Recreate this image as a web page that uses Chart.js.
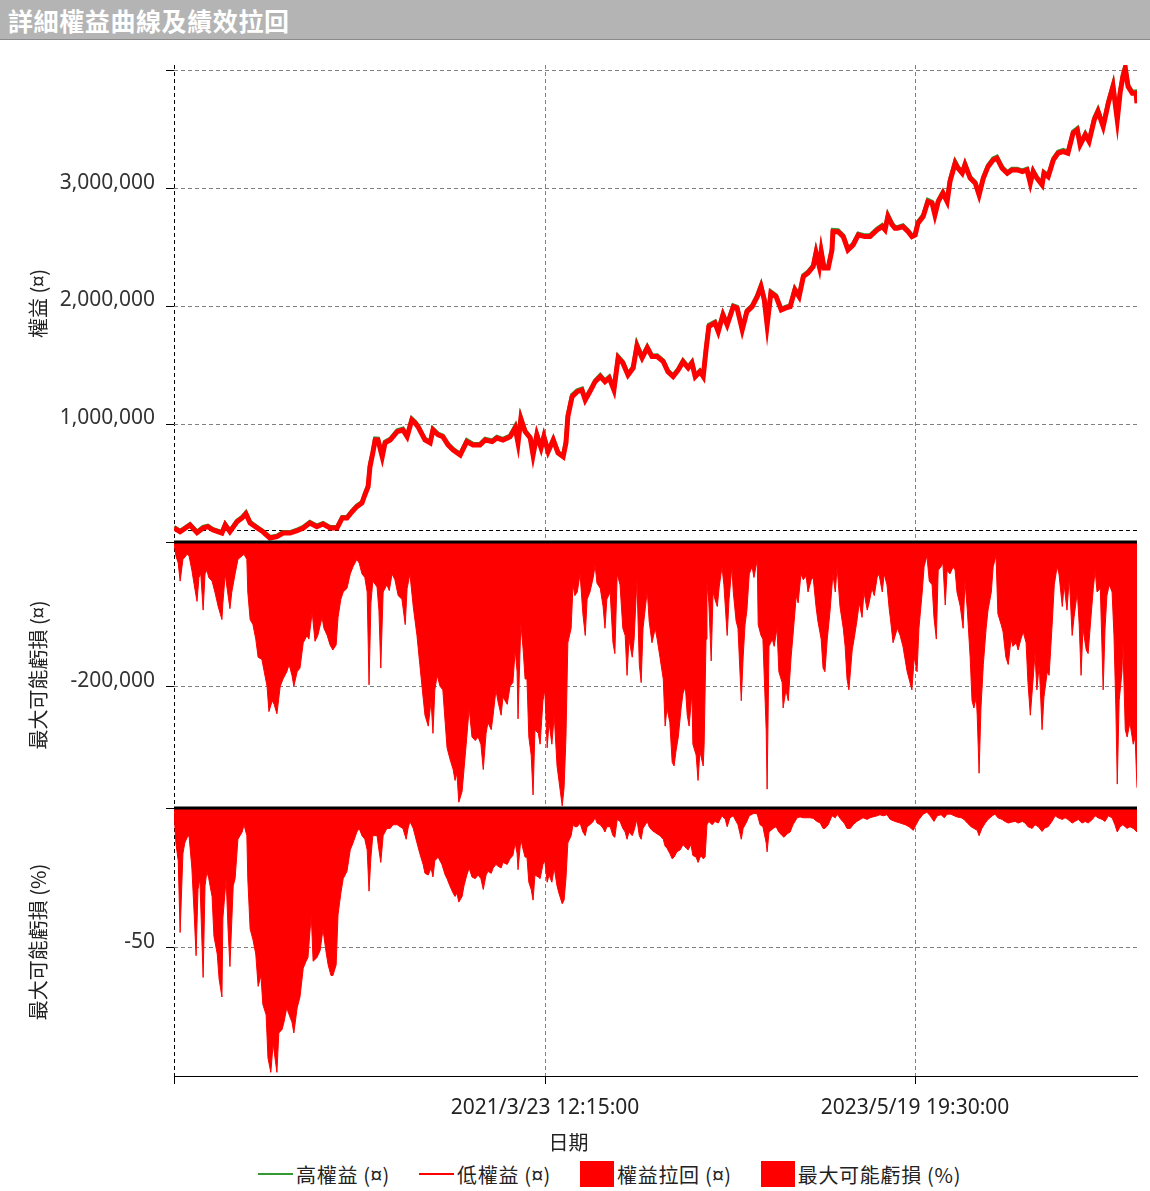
<!DOCTYPE html>
<html>
<head>
<meta charset="utf-8">
<script src="https://cdn.jsdelivr.net/npm/chart.js@4.4.1/dist/chart.umd.min.js"></script>
<style>
  body { margin: 0; background: #fff; width: 1150px; height: 1191px; position: relative; overflow: hidden; }
  #titleBar {
    position: absolute; left: 0; top: 0; width: 1150px; height: 40px;
    background: #b4b4b4; border-bottom: 1px solid #8a8a8a;
    color: #fff; font: bold 25px "Noto Sans CJK TC", sans-serif; line-height: 40px;
    padding-left: 8px; box-sizing: border-box; letter-spacing: 0.6px;
  }
  #wrap { position: absolute; left: 0; top: 41px; width: 1150px; height: 1119px; }
  #legend {
    position: absolute; left: 258px; top: 1161px; height: 26px;
    display: flex; align-items: center; gap: 29px;
    font: 20px "Noto Sans CJK TC", sans-serif; color: #222; letter-spacing: 0.7px;
  }
  #legend .item { display: flex; align-items: center; white-space: nowrap; }
  #legend .swatch { margin-right: 3px; }
</style>
</head>
<body>
<div id="titleBar">詳細權益曲線及績效拉回</div>
<div id="wrap"><canvas id="equityChart" width="1150" height="1119"></canvas></div>
<div id="legend"></div>
<script>
// x axis: days since the first bar, with the two dated ticks
const xTickDays = [0, 789.5, 1576.8];
const xTickLabels = ['', '2021/3/23 12:15:00', '2023/5/19 19:30:00'];
const lastDay = 2049;
const initialCapital = 100000;

// equity (thousands)
const equityDays = [0,13,34,49,62,72,83,102,109,119,134,145,153,162,177,189,204,219,232,247,262,275,289,304,317,332,347,358,368,379,389,400,406,413,417,423,428,434,443,449,460,475,487,496,506,513,519,534,545,551,562,572,583,594,609,623,636,651,662,677,687,700,715,726,732,738,747,758,764,772,781,787,796,807,817,828,834,838,847,858,868,875,885,896,907,917,926,936,945,955,966,977,985,996,1007,1017,1028,1041,1051,1062,1073,1083,1094,1102,1109,1119,1126,1132,1138,1151,1158,1168,1177,1190,1198,1209,1219,1230,1241,1249,1256,1262,1270,1281,1292,1302,1311,1321,1330,1339,1349,1360,1366,1373,1377,1383,1392,1400,1402,1413,1424,1434,1445,1456,1470,1481,1496,1507,1513,1519,1528,1534,1539,1551,1562,1570,1577,1583,1594,1604,1613,1619,1626,1636,1645,1651,1662,1668,1677,1683,1694,1705,1713,1722,1732,1743,1751,1762,1773,1783,1794,1805,1815,1822,1828,1836,1847,1851,1860,1871,1881,1892,1902,1913,1922,1928,1939,1947,1958,1966,1977,1988,1998,2007,2013,2019,2024,2030,2039,2047,2049];
const equityLowK = [119,87,144,79,119,130,102,76,144,87,172,204,238,161,119,87,34,45,76,76,96,119,161,130,153,119,119,204,204,257,300,331,399,470,640,756,866,866,724,841,866,937,951,894,1036,1011,979,866,841,951,909,894,824,781,739,852,824,824,866,852,883,866,894,968,841,1045,937,883,739,909,798,894,767,866,756,724,841,1064,1234,1277,1291,1206,1277,1361,1404,1361,1393,1291,1563,1520,1418,1478,1665,1563,1648,1574,1574,1531,1446,1404,1461,1531,1478,1520,1404,1446,1404,1631,1829,1860,1786,1928,1843,1998,1987,1801,1956,1998,2083,2168,2055,1843,2115,2083,1970,1987,1998,2140,2083,2253,2285,2338,2454,2338,2466,2327,2327,2480,2635,2635,2593,2480,2522,2607,2593,2593,2650,2678,2650,2763,2692,2664,2664,2678,2635,2593,2607,2707,2763,2890,2877,2777,2890,2962,2890,3060,3216,3174,3131,3202,3089,3046,2947,3089,3187,3244,3259,3174,3131,3159,3159,3145,3159,3046,3145,3089,3032,3131,3102,3244,3301,3315,3301,3471,3499,3372,3457,3400,3584,3655,3527,3726,3867,3584,3811,3952,4023,3867,3811,3811,3726];
const equityHighK = [127,95,152,88,128,139,110,85,153,95,181,213,250,170,128,95,42,53,85,84,105,128,170,139,162,128,128,213,213,266,309,340,410,480,660,770,880,878,735,852,877,948,962,905,1048,1022,990,876,851,962,920,904,834,790,748,866,834,833,877,862,894,876,904,985,850,1060,947,893,748,920,808,905,776,876,766,733,860,1080,1250,1288,1302,1216,1288,1372,1418,1371,1404,1300,1578,1531,1428,1489,1682,1573,1660,1584,1585,1541,1456,1414,1472,1542,1488,1531,1414,1456,1414,1645,1845,1871,1796,1940,1853,2010,1998,1812,1968,2008,2095,2182,2066,1853,2127,2094,1980,1998,2008,2152,2094,2266,2297,2350,2470,2349,2480,2338,2337,2492,2650,2648,2604,2490,2533,2619,2604,2604,2662,2692,2661,2778,2703,2674,2674,2690,2646,2603,2618,2720,2776,2905,2888,2787,2902,2975,2900,3074,3232,3186,3142,3215,3099,3056,2957,3100,3199,3257,3272,3185,3141,3170,3170,3156,3170,3056,3156,3099,3042,3142,3113,3257,3315,3330,3312,3487,3515,3383,3470,3411,3600,3672,3538,3742,3885,3595,3827,3970,4040,3880,3822,3826,3737];

// drawdown (thousands)
const ddDays = [0,4,9,13,19,28,32,38,43,49,53,57,62,66,70,74,81,87,94,102,104,109,113,119,123,130,136,145,149,155,157,162,168,174,179,187,192,198,202,209,213,219,226,232,240,245,251,255,262,268,275,283,287,294,300,306,315,319,326,332,338,345,349,355,360,368,375,381,389,394,400,406,411,415,419,423,432,436,440,445,453,458,464,470,477,485,492,496,502,
  509,517,523,530,534,541,547,551,555,560,566,572,577,581,587,594,598,602,606,613,617,623,628,634,641,647,653,658,664,668,675,679,685,689,696,700,709,715,721,726,730,732,738,743,747,751,755,760,764,768,775,779,785,789,794,798,804,809,815,819,826,830,834,838,845,849,853,858,864,870,875,879,885,892,896,900,907,913,917,921,928,934,938,943,949,955,960,964,968,975,979,985,990,994,998,1007,1011,1017,
  1024,1028,1034,1041,1045,1049,1055,1060,1064,1068,1073,1079,1083,1088,1092,1096,1102,1104,1111,1115,1119,1126,1128,1132,1134,1138,1143,1147,1151,1156,1160,1166,1170,1177,1181,1187,1190,1196,1200,1207,1211,1215,1219,1224,1230,1234,1241,1243,1249,1253,1260,1262,1266,1273,1277,1283,1287,1294,1296,1302,1307,1313,1317,1324,1328,1334,1339,1345,1349,1356,1360,1366,1370,1377,1381,1385,1390,1396,1402,1407,1411,1417,1424,1428,1432,1436,1443,1447,1453,1458,1464,1468,1475,1479,1485,1490,1496,1500,1507,1511,1517,1522,
  1524,1530,1539,1545,1551,1560,1564,1570,1575,1581,1585,1592,1596,1602,1607,1613,1617,1622,1626,1632,1636,1641,1645,1651,1658,1662,1666,1673,1679,1683,1688,1694,1698,1702,1707,1709,1713,1717,1722,1728,1732,1739,1743,1749,1753,1760,1764,1770,1775,1781,1785,1792,1796,1802,1807,1813,1817,1822,1828,1832,1836,1841,1847,1851,1858,1862,1868,1873,1879,1883,1890,1894,1900,1905,1911,1915,1922,1926,1930,1934,1941,1945,1951,1956,1960,1964,1971,1977,1981,1985,1990,1996,2000,2004,2007,2011,2017,2019,2024,2028,2034,2041,2045,2049];
const ddK = [0,-19,-29,-54,-24,-17,-19,-39,-59,-82,-49,-44,-94,-44,-39,-49,-54,-69,-89,-107,-84,-44,-64,-92,-69,-44,-24,-19,-17,-24,-69,-107,-114,-134,-159,-162,-179,-199,-234,-219,-224,-237,-199,-189,-179,-169,-184,-199,-179,-174,-139,-129,-134,-97,-137,-129,-104,-119,-129,-142,-149,-142,-104,-79,-69,-64,-44,-34,-24,-29,-44,-49,-69,-197,-84,-54,-62,-94,-174,-69,-59,-67,-44,-52,-74,-79,-114,-64,-44,
  -89,-129,-169,-214,-239,-254,-219,-264,-204,-184,-199,-204,-249,-284,-299,-314,-329,-319,-359,-344,-314,-269,-229,-269,-274,-269,-279,-314,-264,-249,-259,-239,-204,-219,-239,-214,-224,-199,-194,-149,-179,-244,-112,-149,-189,-189,-269,-294,-349,-259,-264,-279,-219,-204,-284,-249,-279,-239,-309,-329,-364,-339,-269,-139,-119,-59,-74,-69,-44,-99,-129,-79,-69,-49,-32,-57,-64,-89,-119,-79,-69,-139,-154,-44,-59,-119,-129,-184,-134,-159,-134,-52,-169,-194,-119,-67,-109,-139,
  -119,-134,-159,-189,-254,-229,-249,-304,-309,-289,-269,-229,-209,-199,-239,-254,-209,-279,-294,-329,-289,-309,-279,-134,-57,-84,-164,-69,-79,-89,-62,-34,-59,-129,-79,-34,-69,-109,-119,-219,-159,-114,-94,-44,-34,-49,-24,-114,-129,-134,-259,-341,-144,-134,-144,-119,-179,-194,-229,-204,-219,-159,-129,-74,-84,-44,-52,-47,-69,-52,-49,-89,-109,-134,-174,-179,-134,-94,-44,-69,-34,-89,-119,-144,-189,-204,-149,-134,-109,-84,-104,-69,-94,-84,-64,-74,-49,-44,-69,-44,-59,-94,
  -104,-139,-119,-129,-144,-179,-189,-204,-159,-179,-119,-69,-34,-19,-54,-59,-104,-134,-39,-34,-29,-87,-39,-44,-34,-39,-69,-89,-119,-54,-94,-159,-219,-229,-214,-239,-319,-229,-169,-119,-94,-69,-34,-19,-99,-114,-124,-159,-169,-134,-144,-139,-149,-134,-124,-139,-194,-239,-189,-154,-204,-169,-259,-214,-179,-184,-119,-59,-34,-44,-89,-59,-94,-49,-129,-104,-69,-114,-184,-119,-149,-154,-104,-64,-39,-69,-64,-204,-119,-74,-59,-69,-129,-229,-334,-219,-179,-139,-259,-269,-249,-279,-269,-339];

// max possible loss (%)
const lossDays = [0,4,9,13,19,23,28,32,38,43,47,51,55,62,66,70,74,81,85,92,96,102,104,111,115,119,126,130,136,145,149,155,157,162,168,174,179,185,189,196,200,206,211,215,219,223,230,234,240,245,251,255,262,268,275,281,285,292,296,304,311,317,323,328,334,338,345,349,355,360,368,375,381,389,394,400,406,411,415,419,423,432,436,440,445,453,460,466,475,481,487,494,498,
  502,509,517,523,530,534,541,547,551,555,562,570,577,581,587,594,598,602,606,613,617,623,628,634,641,647,653,658,664,668,675,679,685,689,696,700,709,715,721,726,730,732,738,743,747,751,755,760,764,768,775,779,785,789,794,798,804,809,815,819,826,830,834,838,845,849,853,858,864,870,875,879,885,892,896,900,907,913,917,921,928,934,938,943,949,955,960,964,968,975,979,985,990,994,998,1007,1011,1017,
  1028,1034,1041,1045,1049,1055,1060,1064,1070,1077,1083,1090,1094,1100,1104,1111,1115,1121,1126,1130,1134,1138,1145,1151,1158,1166,1173,1177,1183,1190,1196,1200,1207,1211,1219,1224,1230,1236,1241,1247,1253,1260,1262,1266,1275,1281,1287,1294,1298,1304,1311,1317,1326,1332,1339,1347,1353,1360,1368,1375,1381,1385,1392,1400,1407,1411,1419,1426,1432,1439,1445,1453,1460,1466,1475,1481,1487,1496,1502,1509,1517,
  1524,1534,1545,1556,1564,1573,1579,1585,1594,1602,1609,1617,1624,1632,1639,1645,1653,1660,1666,1675,1681,1688,1696,1702,1709,1713,1719,1726,1732,1741,1747,1753,1762,1768,1775,1783,1790,1796,1805,1811,1817,1826,1832,1839,1847,1853,1860,1868,1875,1881,1890,1896,1902,1911,1917,1924,1932,1939,1945,1954,1960,1966,1975,1981,1988,1996,2002,2007,2013,2019,2028,2034,2041,2049];
const lossPct = [-1,-12.5,-18.9,-44.6,-16.3,-12.5,-10.5,-9.9,-21.5,-38.2,-52.9,-29.2,-25.3,-60.7,-27.9,-22.7,-25.3,-31.7,-45.9,-52.3,-61.3,-67.7,-39.4,-25.3,-43.3,-56.8,-27.9,-25.3,-11.2,-8.6,-6.0,-9.9,-25.3,-43.3,-47.2,-52.3,-63.9,-60.0,-70.3,-74.1,-89.6,-94.7,-84.4,-89.6,-94.7,-80.6,-79.3,-76.7,-71.6,-74.1,-76.7,-80.6,-71.6,-67.7,-57.4,-54.9,-53.6,-38.2,-54.9,-53.6,-51.0,-43.3,-51.0,-56.2,-60.0,-60.0,-56.2,-38.2,-30.5,-25.3,-22.7,-15.0,-12.5,-8.6,-7.3,-9.9,-11.2,-15.0,-29.8,-17.6,-9.9,-9.9,-15.0,-19.5,-9.9,-7.3,-7.3,-6.0,-6.0,-6.7,-7.3,-11.2,-7.3,
  -4.8,-7.3,-12.5,-16.3,-20.2,-23.4,-24.0,-21.5,-24.7,-18.9,-17.6,-20.2,-24.0,-25.3,-27.9,-30.5,-31.7,-30.5,-33.7,-31.7,-27.9,-24.0,-21.5,-24.7,-25.3,-24.0,-25.3,-29.2,-24.0,-22.7,-23.4,-21.5,-20.2,-20.8,-21.5,-19.5,-20.2,-18.2,-17.0,-12.5,-16.3,-22.1,-11.2,-15.0,-17.6,-17.6,-26.6,-29.2,-33.0,-24.0,-24.7,-25.3,-20.2,-18.9,-26.6,-24.0,-26.6,-21.5,-27.9,-30.5,-34.3,-33.0,-25.3,-12.5,-9.9,-6.0,-6.7,-6.7,-5.4,-8.6,-9.9,-6.7,-6.0,-4.8,-3.5,-5.4,-6.0,-7.3,-8.6,-6.7,-6.7,-9.9,-10.5,-4.1,-4.8,-7.3,-8.6,-11.2,-8.6,-9.9,-8.0,-4.1,-9.9,-11.2,-7.3,-4.8,-6.7,-8.0,
  -9.3,-9.9,-11.2,-13.7,-14.4,-16.3,-18.2,-17.6,-15.7,-15.0,-13.1,-14.4,-15.0,-13.1,-17.0,-17.6,-19.5,-17.0,-18.2,-17.6,-6.0,-4.8,-6.0,-4.8,-5.4,-2.8,-4.1,-6.7,-3.5,-2.8,-4.8,-6.0,-11.2,-7.3,-4.8,-2.8,-2.2,-1.9,-2.2,-6.0,-6.7,-12.5,-15.7,-8.6,-7.3,-6.7,-8.6,-9.9,-10.5,-9.3,-8.6,-6.0,-3.5,-3.2,-3.5,-3.5,-3.5,-3.7,-4.8,-5.4,-7.3,-7.3,-6.0,-2.8,-3.5,-2.2,-4.1,-5.4,-7.3,-7.3,-6.0,-4.8,-4.1,-3.5,-4.1,-3.5,-3.2,-2.8,-2.4,-2.8,-2.4,
  -4.1,-4.8,-5.4,-6.0,-6.7,-8.0,-6.0,-4.1,-2.2,-1.5,-2.8,-4.8,-2.8,-2.4,-3.5,-2.2,-2.2,-2.8,-3.2,-3.5,-4.1,-5.4,-6.7,-7.3,-8.0,-9.9,-7.3,-5.4,-4.1,-2.8,-2.2,-3.5,-4.1,-4.8,-5.4,-5.0,-4.8,-5.4,-4.8,-5.4,-6.7,-7.3,-6.0,-6.7,-8.4,-7.1,-6.7,-4.8,-2.8,-3.5,-4.1,-3.5,-4.1,-5.4,-4.8,-4.1,-5.4,-4.8,-5.4,-4.1,-2.8,-3.5,-4.1,-4.8,-2.8,-3.5,-6.0,-8.6,-6.7,-6.0,-7.3,-6.7,-7.3,-8.6];

// y ticks per panel
const equityTicks = [1000000, 2000000, 3000000, 4000000];
const equityTickLabels = ['1,000,000', '2,000,000', '3,000,000', ''];
const ddTicks = [-200000, 0];
const ddTickLabels = ['-200,000', ''];
const lossTicks = [-50, 0];
const lossTickLabels = ['-50', ''];

const RED = '#ff0000';
const GREEN = '#339933';
const GRID = '#808080';
const tickFont = { family: 'Noto Sans', size: 21 };
const cjkFont = { family: "'Noto Sans CJK TC', 'Noto Sans', sans-serif", size: 20 };

const zip = (days, vals, mult) => days.map((d, i) => ({ x: d, y: vals[i] * mult }));

// shared look for the stacked y panels
const panelAxis = (ticks, labels, title, weight, min, max) => ({
  type: 'linear',
  position: 'left',
  stack: 'panels',
  stackWeight: weight,
  min: min,
  max: max,
  afterBuildTicks: s => { s.ticks = ticks.map(v => ({ value: v })); },
  afterFit: s => { s.width = 174; },
  ticks: {
    callback: (v, i) => labels[i],
    font: tickFont, color: '#333', padding: 11, labelOffset: -6, autoSkip: false
  },
  grid: { color: GRID, lineWidth: 1, tickLength: 8, tickColor: '#000', tickBorderDash: [] },
  border: { display: false, dash: [4, 3] },
  title: { display: true, text: title, font: cjkFont, color: '#222', padding: { top: 26, bottom: 0 } }
});

// initial capital line under the data, zero lines over it
const refLines = {
  id: 'refLines',
  beforeDatasetsDraw(chart) {
    const { ctx, chartArea, scales } = chart;
    const y = Math.round(scales.yEq.getPixelForValue(initialCapital)) + 0.5;
    ctx.save();
    ctx.strokeStyle = '#000';
    ctx.lineWidth = 1;
    ctx.setLineDash([4, 3]);
    ctx.beginPath();
    ctx.moveTo(chartArea.left, y);
    ctx.lineTo(chartArea.right, y);
    ctx.stroke();
    ctx.restore();
  },
  afterDatasetsDraw(chart) {
    const { ctx, chartArea, scales } = chart;
    ctx.save();
    ctx.strokeStyle = '#000';
    ctx.lineWidth = 3;
    for (const id of ['yDd', 'yPct']) {
      const y = scales[id].getPixelForValue(0);
      ctx.beginPath();
      ctx.moveTo(chartArea.left, y);
      ctx.lineTo(chartArea.right, y);
      ctx.stroke();
    }
    ctx.restore();
  }
};

const chart = new Chart(document.getElementById('equityChart'), {
  type: 'line',
  data: {
    datasets: [
      { label: '高權益 (¤)', data: zip(equityDays, equityHighK, 1000), yAxisID: 'yEq',
        borderColor: GREEN, backgroundColor: GREEN, borderWidth: 4, fill: false, order: 2 },
      { label: '低權益 (¤)', data: zip(equityDays, equityLowK, 1000), yAxisID: 'yEq',
        borderColor: RED, backgroundColor: RED, borderWidth: 5, fill: false, order: 1 },
      { label: '權益拉回 (¤)', data: zip(ddDays, ddK, 1000), yAxisID: 'yDd',
        borderColor: RED, backgroundColor: RED, borderWidth: 1, fill: 'origin', order: 3 },
      { label: '最大可能虧損 (%)', data: zip(lossDays, lossPct, 1), yAxisID: 'yPct',
        borderColor: RED, backgroundColor: RED, borderWidth: 1, fill: 'origin', order: 4 }
    ]
  },
  options: {
    responsive: false,
    animation: false,
    devicePixelRatio: 1,
    elements: { point: { radius: 0 }, line: { tension: 0 } },
    layout: { padding: { top: 24, right: 13, left: 0, bottom: 0 } },
    plugins: {
      legend: { display: false },
      tooltip: { enabled: false },
      title: {
        display: true, position: 'bottom', text: '日期',
        font: { family: cjkFont.family, size: 20, weight: 'normal' }, color: '#222',
        padding: { top: 0, bottom: 6 }
      }
    },
    scales: {
      x: {
        type: 'linear',
        min: 0,
        max: lastDay,
        afterBuildTicks: s => { s.ticks = xTickDays.map(v => ({ value: v })); },
        afterFit: s => { s.height = 54; },
        ticks: {
          callback: (v, i) => xTickLabels[i],
          font: tickFont, color: '#222', padding: 11, maxRotation: 0, autoSkip: false
        },
        grid: {
          color: c => c.index === 0 ? '#000' : GRID,
          lineWidth: 1, tickLength: 8, tickColor: '#000', tickBorderDash: []
        },
        border: { display: true, color: '#000', width: 1, dash: [4, 3] }
      },
      yPct: panelAxis(lossTicks, lossTickLabels, '最大可能虧損 (%)', 268, -96, 0),
      yDd: panelAxis(ddTicks, ddTickLabels, '最大可能虧損 (¤)', 266, -367000, 0),
      yEq: panelAxis(equityTicks, equityTickLabels, '權益 (¤)', 477, 0, 4050000)
    }
  },
  plugins: [refLines]
});

// legend built from the datasets, in the order shown under the chart
const legend = document.getElementById('legend');
chart.data.datasets.forEach(ds => {
  const item = document.createElement('div');
  item.className = 'item';
  const sw = document.createElement('span');
  sw.className = 'swatch';
  if (ds.fill) {
    sw.style.cssText = `display:inline-block;width:34px;height:26px;background:${ds.backgroundColor}`;
  } else {
    sw.style.cssText = `display:inline-block;width:35px;height:2px;background:${ds.borderColor}`;
  }
  const txt = document.createElement('span');
  txt.textContent = ds.label;
  item.appendChild(sw);
  item.appendChild(txt);
  legend.appendChild(item);
});
</script>
</body>
</html>
